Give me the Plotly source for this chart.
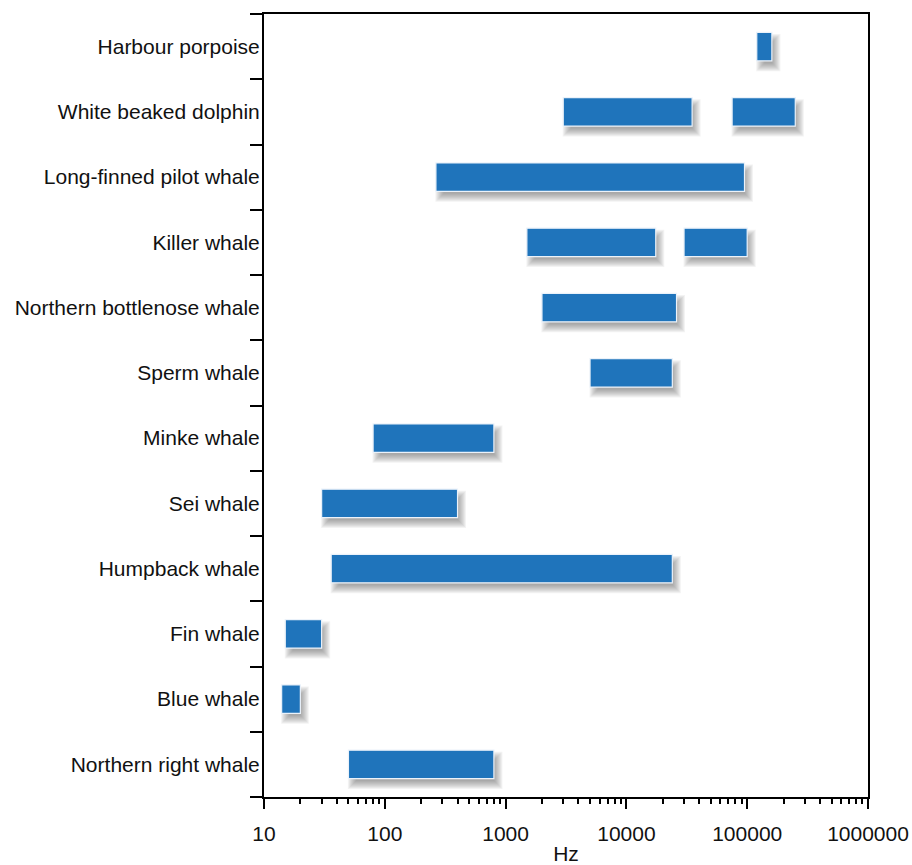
import plotly.graph_objects as go

# Species, top of the chart to bottom
species = [
    "Harbour porpoise",
    "White beaked dolphin",
    "Long-finned pilot whale",
    "Killer whale",
    "Northern bottlenose whale",
    "Sperm whale",
    "Minke whale",
    "Sei whale",
    "Humpback whale",
    "Fin whale",
    "Blue whale",
    "Northern right whale",
]

# Frequency ranges (Hz); a species may have more than one band
band_species = [
    "Harbour porpoise",
    "White beaked dolphin", "White beaked dolphin",
    "Long-finned pilot whale",
    "Killer whale", "Killer whale",
    "Northern bottlenose whale",
    "Sperm whale",
    "Minke whale",
    "Sei whale",
    "Humpback whale",
    "Fin whale",
    "Blue whale",
    "Northern right whale",
]
band_low = [120000, 3000, 75000, 265, 1500, 30000, 2000, 5000, 80, 30, 36, 15, 14, 50]
band_high = [160000, 35000, 250000, 95000, 17500, 100000, 26000, 24000, 800, 400, 24000, 30, 20, 800]

decade_ticks = [10, 100, 1000, 10000, 100000, 1000000]
decade_labels = ["10", "100", "1000", "10000", "100000", "1000000"]
minor_ticks = [m * d for d in decade_ticks[:-1] for m in range(2, 10)]

# Plot geometry used to size the soft drop shadow
PX_PER_DECADE = 604 / 5.0
PX_PER_CAT = 783 / 12.0
BAR_W = 0.435
BAR_COLOR = "#1f74bb"

fig = go.Figure()

# Drop shadow: stacked translucent rectangles, shifted down/right and widened
shadow_dx, shadow_dy = 4.0, 6.0
for k in range(9):
    e = -3.5 + k * 1.0
    fx_lo = 10 ** ((shadow_dx - e) / PX_PER_DECADE)
    fx_hi = 10 ** ((shadow_dx + e) / PX_PER_DECADE)
    base = [lo * fx_lo for lo in band_low]
    length = [hi * fx_hi - lo * fx_lo for lo, hi in zip(band_low, band_high)]
    w = BAR_W + 2 * e / PX_PER_CAT
    fig.add_trace(go.Bar(
        y=band_species, x=length, base=base, orientation="h",
        width=w, offset=-w / 2 - shadow_dy / PX_PER_CAT,
        marker=dict(color="rgba(70,70,70,0.065)", line=dict(width=0)),
        hoverinfo="skip", showlegend=False,
    ))

# Frequency bands
fig.add_trace(go.Bar(
    y=band_species,
    x=[hi - lo for lo, hi in zip(band_low, band_high)],
    base=band_low,
    orientation="h",
    width=BAR_W,
    marker=dict(color=BAR_COLOR, line=dict(color="rgba(235,242,250,1)", width=1.2)),
    showlegend=False,
    hovertemplate="%{y}: %{base}–%{x} Hz<extra></extra>",
))

font_family = "Liberation Sans, Arial, Helvetica, sans-serif"

fig.update_layout(
    width=912, height=865,
    margin=dict(l=264, r=44, t=14, b=68),
    paper_bgcolor="white", plot_bgcolor="white",
    barmode="overlay",
    font=dict(family=font_family, size=21, color="#111111"),
    xaxis=dict(
        type="log",
        range=[1, 6],
        automargin=False,
        tickvals=decade_ticks, ticktext=decade_labels,
        ticks="outside", ticklen=10, tickwidth=2, tickcolor="black",
        minor=dict(tickvals=minor_ticks, ticks="outside", ticklen=5,
                   tickwidth=1.5, tickcolor="black"),
        showline=True, linewidth=2, linecolor="black", mirror=True,
        showgrid=False, zeroline=False,
        ticklabelstandoff=7,
        title=dict(text="Hz", standoff=6, font=dict(size=21)),
    ),
    yaxis=dict(
        type="category",
        automargin=False,
        categoryorder="array", categoryarray=species[::-1],
        range=[-0.5, len(species) - 0.5],
        tickson="boundaries",
        ticks="outside", ticklen=12, tickwidth=2, tickcolor="black",
        showline=True, linewidth=2, linecolor="black", mirror=True,
        showgrid=False, zeroline=False,
        ticklabelstandoff=-2,
    ),
)

fig.write_html("out.html")
